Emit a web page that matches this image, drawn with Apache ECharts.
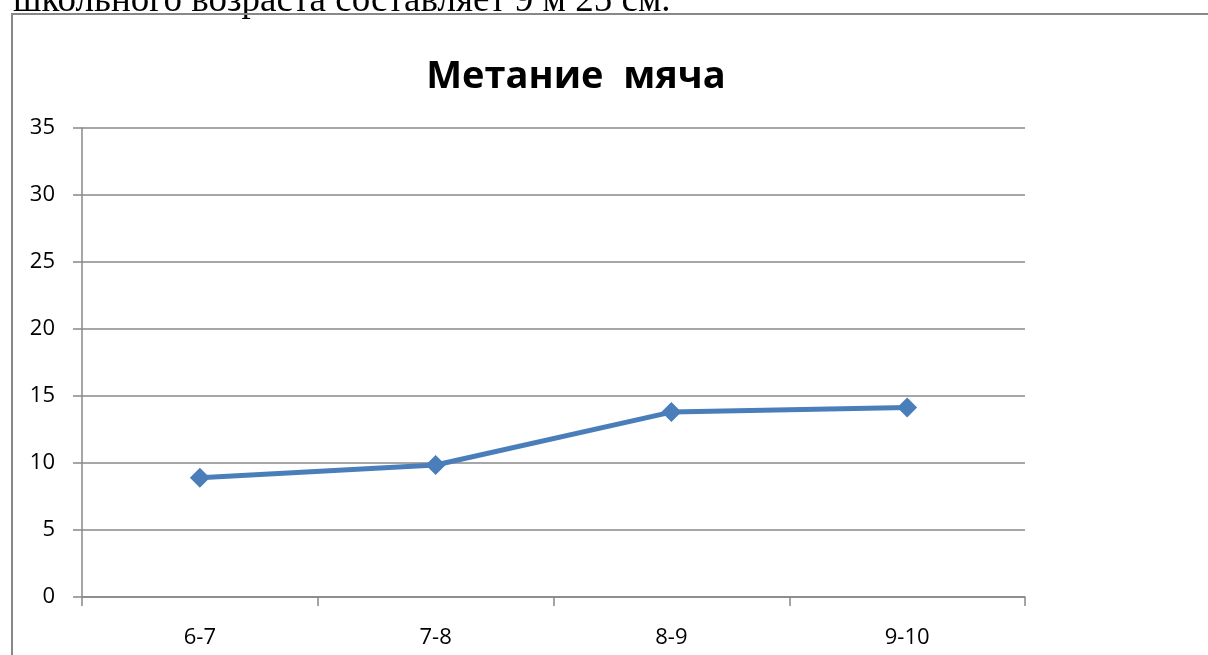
<!DOCTYPE html>
<html>
<head>
<meta charset="utf-8">
<script src="https://cdn.jsdelivr.net/npm/echarts@6/dist/echarts.min.js"></script>
<style>
  html, body { margin: 0; padding: 0; background: #fff; }
  #chart { width: 1208px; height: 655px; }
</style>
</head>
<body>
<div id="chart"></div>
<script>
// Age groups and average throw distance (m)
const ageGroups = ['6-7', '7-8', '8-9', '9-10'];
const throwDistance = [8.9, 9.85, 13.8, 14.15];
const yTicks = { min: 0, max: 35, step: 5 };

const chart = echarts.init(document.getElementById('chart'));
const gray = '#888888';

chart.setOption({
  animation: false,
  backgroundColor: '#ffffff',
  title: {
    text: 'Метание  мяча',
    left: 571,
    top: 53,
    textAlign: 'center',
    textStyle: {
      fontFamily: 'Open Sans',
      fontWeight: 'bold',
      fontSize: 38,
      color: '#000'
    }
  },
  graphic: [
    {
      type: 'text',
      x: 13,
      y: -17,
      style: {
        text: 'школьного возраста составляет 9 м 25 см.',
        font: '37px "Liberation Serif"',
        fill: '#000'
      }
    },
    {
      type: 'rect',
      shape: { x: 12, y: 14, width: 1260, height: 700 },
      style: { fill: 'none', stroke: gray, lineWidth: 2 },
      silent: true
    }
  ],
  grid: { left: 82, right: 183, top: 128, bottom: 58, containLabel: false },
  xAxis: {
    type: 'category',
    data: ageGroups,
    boundaryGap: true,
    axisLine: { lineStyle: { color: gray, width: 1.5 } },
    axisTick: { show: true, length: 9, alignWithLabel: false, lineStyle: { color: gray, width: 1.5 } },
    axisLabel: { margin: 30, fontFamily: 'Open Sans', fontSize: 22, color: '#000' },
    splitLine: { show: false }
  },
  yAxis: {
    type: 'value',
    min: yTicks.min,
    max: yTicks.max,
    interval: yTicks.step,
    axisLine: { show: true, lineStyle: { color: gray, width: 1.5 } },
    axisTick: { show: true, length: 9, lineStyle: { color: gray, width: 1.5 } },
    axisLabel: { margin: 27, fontFamily: 'Open Sans', fontSize: 22, color: '#000' },
    splitLine: { show: true, lineStyle: { color: gray, width: 1.5 } }
  },
  series: [{
    type: 'line',
    data: throwDistance,
    symbol: 'diamond',
    symbolSize: 20,
    itemStyle: { color: '#4a7ebb' },
    lineStyle: { color: '#4a7ebb', width: 5 },
    z: 5
  }]
});
</script>
</body>
</html>
